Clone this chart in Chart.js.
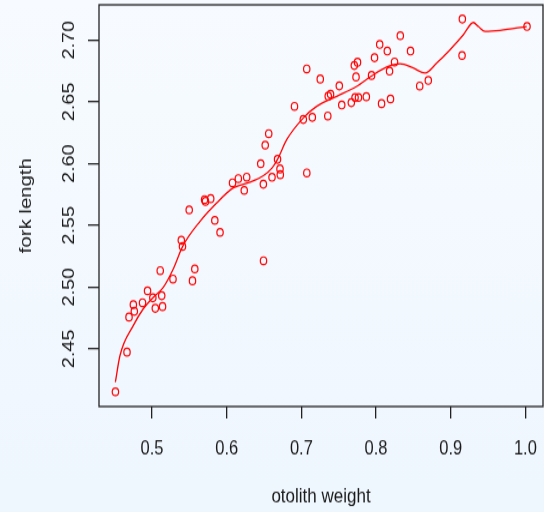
<!DOCTYPE html>
<html>
<head>
<meta charset="utf-8">
<script src="https://cdn.jsdelivr.net/npm/chart.js@4"></script>
<style>
  html, body { margin: 0; padding: 0; }
  body { width: 544px; height: 512px; background: linear-gradient(#f7fbff, #eef6fe); overflow: hidden; }
  canvas { display: block; }
</style>
</head>
<body>
<canvas id="myChart" width="544" height="427" style="width:544px;height:512px"></canvas>
<script>
// otolith weight vs fork length
var weightX = [0.451, 0.4665, 0.4692, 0.475, 0.4763, 0.4873, 0.494, 0.5011, 0.5044, 0.511,
    0.513, 0.5141, 0.5281, 0.5542, 0.5573, 0.5392, 0.5408, 0.5498, 0.5704, 0.5716,
    0.5786, 0.5841, 0.5911, 0.6078, 0.6156, 0.6268, 0.6235, 0.6456, 0.6491, 0.6493,
    0.6516, 0.6563, 0.6607, 0.6681, 0.6714, 0.6718, 0.7073, 0.6908, 0.7026, 0.7147,
    0.7072, 0.7253, 0.7354, 0.736, 0.7391, 0.7508, 0.7541, 0.7669, 0.7719, 0.7765,
    0.787, 0.7732, 0.7709, 0.7752, 0.794, 0.798, 0.8049, 0.8151, 0.8074, 0.8194,
    0.8181, 0.8248, 0.8325, 0.8462, 0.8585, 0.87, 0.9156, 0.9152, 1.0022];
var lengthY = [2.4152, 2.4473, 2.4757, 2.4858, 2.4804, 2.4873, 2.497, 2.4913, 2.4828, 2.5133,
    2.493, 2.4842, 2.5065, 2.5051, 2.5147, 2.5379, 2.5329, 2.5625, 2.5708, 2.5694,
    2.5716, 2.554, 2.5443, 2.5844, 2.5878, 2.589, 2.5783, 2.5999, 2.5833, 2.5213,
    2.6149, 2.6242, 2.5889, 2.6034, 2.5956, 2.591, 2.5924, 2.6463, 2.6357, 2.6374,
    2.6766, 2.6684, 2.6385, 2.6546, 2.6561, 2.6629, 2.6474, 2.6493, 2.6535, 2.6535,
    2.6541, 2.6701, 2.6794, 2.682, 2.6713, 2.6857, 2.6964, 2.6911, 2.6485, 2.6523,
    2.6748, 2.6822, 2.7035, 2.6911, 2.6628, 2.6673, 2.717, 2.6875, 2.711];

// smooth fit line
var fitX = [0.4509, 0.4571, 0.475, 0.4883, 0.5017, 0.5151, 0.5285, 0.5411, 0.5643, 0.5866,
    0.6089, 0.6312, 0.6491, 0.6607, 0.6683, 0.6804, 0.7026, 0.7206, 0.7474, 0.7741,
    0.7942, 0.8143, 0.8321, 0.8499, 0.8656, 0.8813, 0.8991, 0.9169, 0.9303, 0.937,
    0.946, 0.9661, 1.0018];
var fitY = [2.423, 2.4446, 2.4689, 2.4824, 2.4917, 2.4998, 2.5147, 2.533, 2.5532, 2.5681,
    2.5803, 2.585, 2.5902, 2.5964, 2.6037, 2.6193, 2.6369, 2.6463, 2.6544, 2.6625,
    2.671, 2.6782, 2.6808, 2.6773, 2.6733, 2.6814, 2.6922, 2.7043, 2.7142, 2.711,
    2.707, 2.7078, 2.711];

var xTicks = [0.5, 0.6, 0.7, 0.8, 0.9, 1.0];
var yTicks = [2.45, 2.50, 2.55, 2.60, 2.65, 2.70];

var FONT = '"Liberation Sans", Arial, Helvetica, sans-serif';

function noPad(s) {
    s.paddingLeft = 0;
    s.paddingRight = 0;
    s.paddingTop = 0;
    s.paddingBottom = 0;
}

var framePlugin = {
    id: "frame",
    afterDraw: function (chart) {
        var ctx = chart.ctx;
        var a = chart.chartArea;
        var y = chart.scales.y;
        ctx.save();
        ctx.strokeStyle = "#222";
        ctx.lineWidth = 1.3;
        ctx.strokeRect(a.left, a.top, a.right - a.left, a.bottom - a.top);
        // y tick labels, rotated like R does
        ctx.fillStyle = "#1a1a1a";
        ctx.font = "16.5px " + FONT;
        ctx.textAlign = "center";
        ctx.textBaseline = "middle";
        y.ticks.forEach(function (t) {
            ctx.save();
            ctx.translate(69, y.getPixelForValue(t.value));
            ctx.rotate(-Math.PI / 2);
            ctx.fillText(t.value.toFixed(2), 0, 0);
            ctx.restore();
        });
        ctx.restore();
    },
};

var points = weightX.map(function (v, i) { return { x: v, y: lengthY[i] }; });
var fit = fitX.map(function (v, i) { return { x: v, y: fitY[i] }; });

var ctx = document.getElementById("myChart").getContext("2d");
var myChart = new Chart(ctx, {
    type: "scatter",
    data: {
        datasets: [
            {
                label: "fit",
                data: fit,
                showLine: true,
                borderColor: "#ff0000",
                borderWidth: 1.3,
                pointRadius: 0,
                cubicInterpolationMode: "monotone",
                fill: false,
            },
            {
                label: "fish",
                data: points,
                pointStyle: "circle",
                pointRadius: 3.2,
                borderWidth: 1.2,
                borderColor: "#ff0000",
                backgroundColor: "rgba(0,0,0,0)",
            },
        ],
    },
    options: {
        responsive: false,
        animation: false,
        layout: { autoPadding: false, padding: { top: 4, right: 1, left: 0, bottom: 0 } },
        plugins: { legend: { display: false }, tooltip: { enabled: false } },
        scales: {
            x: {
                type: "linear",
                min: 0.429,
                max: 1.0236,
                afterBuildTicks: function (s) { s.ticks = xTicks.map(function (v) { return { value: v }; }); },
                afterFit: function (s) { s.height = 88; noPad(s); },
                grid: { drawOnChartArea: false, drawTicks: true, tickLength: 10, color: "#222", lineWidth: 1.3 },
                border: { display: false },
                ticks: {
                    padding: 15.3,
                    color: "#1a1a1a",
                    font: { family: FONT, size: 16.5 },
                    maxRotation: 0,
                    callback: function (v) { return v.toFixed(1); },
                },
                title: {
                    display: true,
                    text: "otolith weight",
                    color: "#1a1a1a",
                    font: { family: FONT, size: 17 },
                    padding: { top: 0, bottom: 2.7 },
                },
            },
            y: {
                type: "linear",
                min: 2.4033,
                max: 2.7285,
                afterBuildTicks: function (s) { s.ticks = yTicks.map(function (v) { return { value: v }; }); },
                afterFit: function (s) { s.width = 99; noPad(s); },
                grid: { drawOnChartArea: false, drawTicks: true, tickLength: 11, color: "#222", lineWidth: 1.3 },
                border: { display: false },
                ticks: { display: false },
                title: {
                    display: true,
                    text: "fork length",
                    color: "#1a1a1a",
                    font: { family: FONT, size: 17 },
                    padding: { top: 15.8, bottom: 0 },
                },
            },
        },
    },
    plugins: [framePlugin],
});
</script>
</body>
</html>
